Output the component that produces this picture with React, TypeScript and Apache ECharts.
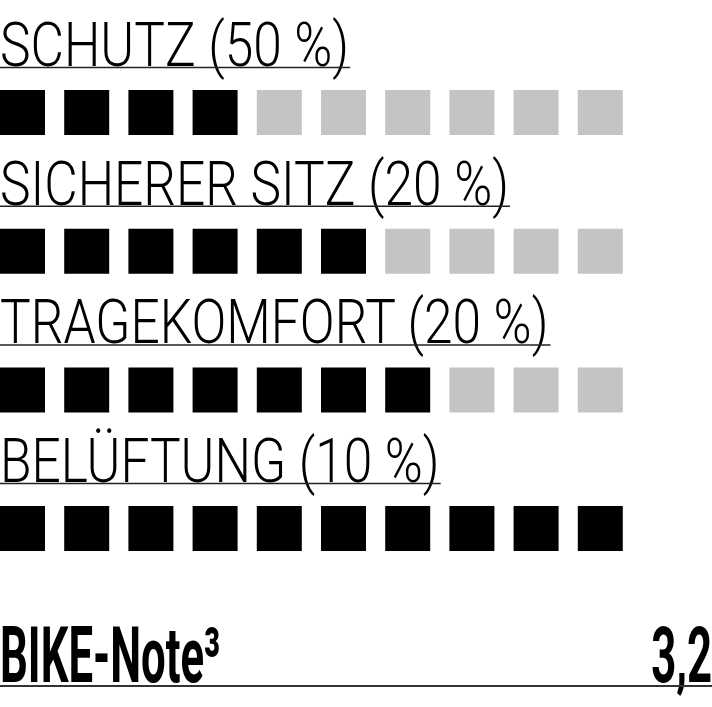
import React, { useEffect, useRef } from 'react'
import * as echarts from 'echarts'

// Bewertungskriterien mit Gewichtung und erreichten Kästchen (von 10)
const criteria = ['SCHUTZ (50 %)', 'SICHERER SITZ (20 %)', 'TRAGEKOMFORT (20 %)', 'BELÜFTUNG (10 %)']
const scores = [4, 6, 7, 10]
const maxBoxes = 10
const noteLabel = 'BIKE-Note³'
const noteValue = '3,2'

const W = 712
const H = 707
const boxSize = 45
const firstBoxX = 22.5
const boxStep = 64.2
const firstRowY = 112.5
const rowStep = 138.7

const labelFont = '300 62px Roboto'
const labelScale = 0.83
const noteFont = 'bold 78px Roboto'
const noteScale = 0.56

const measure = (text: string, font: string) => {
    const ctx = document.createElement('canvas').getContext('2d')
    if (!ctx) return 0
    ctx.font = font
    return ctx.measureText(text).width
}

const App: React.FC = () => {
    const chartRef = useRef<HTMLDivElement>(null)

    useEffect(() => {
        document.body.style.margin = '0'
        const chart = echarts.init(chartRef.current, null, { renderer: 'svg' })

        const filled: number[][] = []
        const empty: number[][] = []
        scores.forEach((score, row) => {
            for (let i = 0; i < maxBoxes; i++) {
                if (i < score) filled.push([i, row])
                else empty.push([i, row])
            }
        })

        // Beschriftungen mit Unterstreichung über jeder Reihe
        const graphics: any[] = []
        criteria.forEach((label, row) => {
            const baseline = firstRowY + rowStep * row - boxSize / 2 - 24
            const width = measure(label, labelFont) * labelScale
            graphics.push({
                type: 'text',
                x: 0,
                y: baseline - 0.342 * 62,
                scaleX: labelScale,
                style: {
                    text: label,
                    font: labelFont,
                    fill: '#000',
                    align: 'left',
                    verticalAlign: 'middle',
                },
            })
            graphics.push({
                type: 'line',
                shape: { x1: 0, y1: baseline + 1.5, x2: width + 1, y2: baseline + 1.5 },
                style: { stroke: '#222', lineWidth: 1.5 },
            })
        })

        const noteBaseline = 682
        graphics.push({
            type: 'text',
            x: 0,
            y: noteBaseline - 0.342 * 78,
            scaleX: noteScale,
            style: { text: noteLabel, font: noteFont, fill: '#000', align: 'left', verticalAlign: 'middle' },
        })
        graphics.push({
            type: 'text',
            x: W,
            y: noteBaseline - 0.342 * 78,
            scaleX: noteScale,
            style: { text: noteValue, font: noteFont, fill: '#000', align: 'right', verticalAlign: 'middle' },
        })
        graphics.push({
            type: 'line',
            shape: { x1: 0, y1: 686, x2: W, y2: 686 },
            style: { stroke: '#333', lineWidth: 2 },
        })

        const option = {
            animation: false,
            grid: {
                left: firstBoxX,
                width: boxStep * (maxBoxes - 1),
                top: firstRowY,
                height: rowStep * (criteria.length - 1),
            },
            xAxis: { type: 'value', min: 0, max: maxBoxes - 1, show: false },
            yAxis: { type: 'value', min: 0, max: criteria.length - 1, inverse: true, show: false },
            series: [
                {
                    name: 'erreicht',
                    type: 'scatter',
                    symbol: 'rect',
                    symbolSize: boxSize,
                    itemStyle: { color: '#000', opacity: 1 },
                    emphasis: { disabled: true },
                    data: filled,
                },
                {
                    name: 'offen',
                    type: 'scatter',
                    symbol: 'rect',
                    symbolSize: boxSize,
                    itemStyle: { color: '#c4c4c4', opacity: 1 },
                    emphasis: { disabled: true },
                    data: empty,
                },
            ],
            graphic: graphics,
        }

        chart.setOption(option)

        return () => {
            chart.dispose()
        }
    }, [])

    return <div ref={chartRef} style={{ width: W, height: H }} />
}

export default App
